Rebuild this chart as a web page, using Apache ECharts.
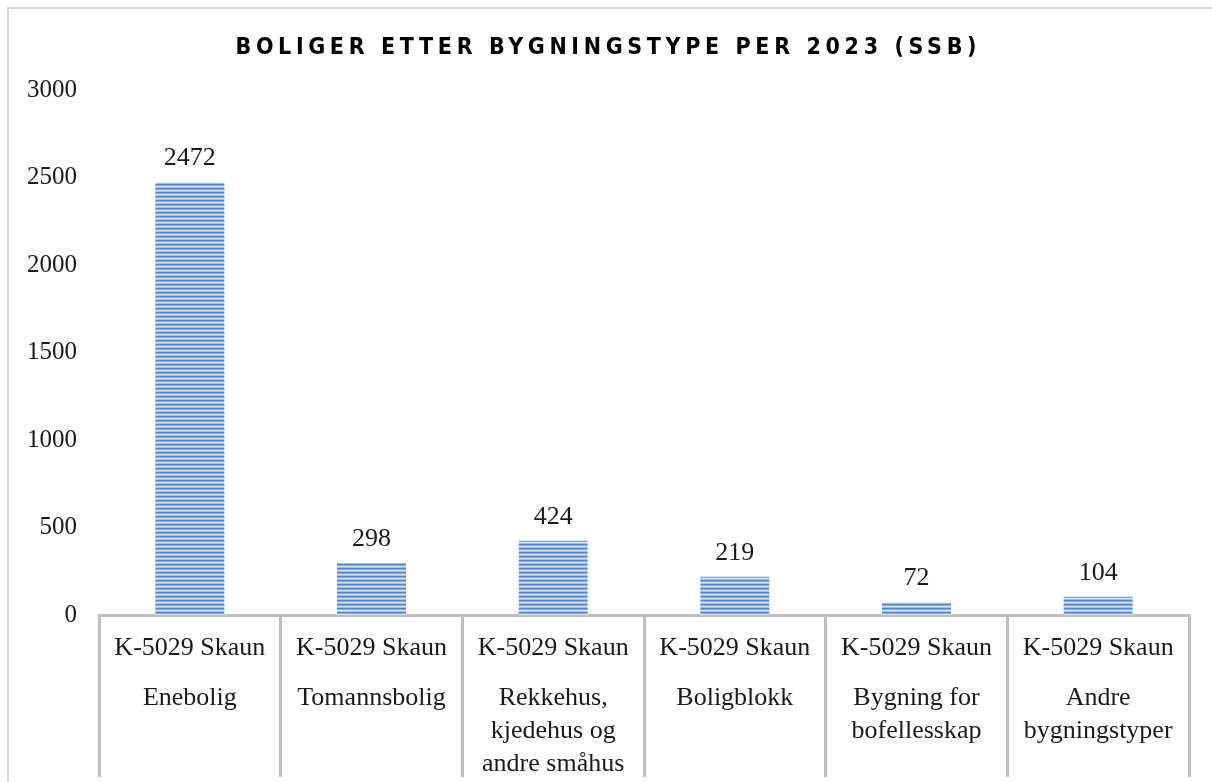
<!DOCTYPE html>
<html>
<head>
<meta charset="utf-8">
<script src="https://cdn.jsdelivr.net/npm/echarts@6/dist/echarts.min.js"></script>
<style>
  html, body { margin: 0; padding: 0; background: #fff; }
  #wrap { position: relative; width: 1212px; height: 782px; overflow: hidden; }
  #chart { width: 1212px; height: 782px; }
  #title {
    position: absolute; left: 0; top: 32px; width: 1212px; text-align: center;
    font-family: "DejaVu Sans Condensed", "DejaVu Sans", sans-serif; font-weight: bold; font-size: 23px;
    letter-spacing: 5px; color: #000; line-height: 28px; pointer-events: none; white-space: nowrap;
  }
</style>
</head>
<body>
<div id="wrap">
  <div id="chart"></div>
  <div id="title">BOLIGER ETTER BYGNINGSTYPE PER 2023 (SSB)</div>
</div>
<script>
// kommune (første nivå på x-aksen)
const region = 'K-5029 Skaun';
// bygningstyper (andre nivå), linjeskift som i figuren
const categories = [
  'Enebolig',
  'Tomannsbolig',
  'Rekkehus,\nkjedehus og\nandre småhus',
  'Boligblokk',
  'Bygning for\nbofellesskap',
  'Andre\nbygningstyper'
];
const values = [2472, 298, 424, 219, 72, 104];
const yTicks = [0, 500, 1000, 1500, 2000, 2500, 3000];

const serif = '"Liberation Serif", "DejaVu Serif", serif';

// tittelen strekkes til samme bredde som i originalen
(function fitTitle() {
  const el = document.getElementById('title');
  const target = 741;
  const ctx = document.createElement('canvas').getContext('2d');
  ctx.font = 'bold 23px "DejaVu Sans Condensed", "DejaVu Sans", sans-serif';
  const txt = el.textContent;
  const w = ctx.measureText(txt).width;
  const ls = (target - w) / (txt.length - 1);
  el.style.letterSpacing = ls + 'px';
  el.style.textIndent = ls + 'px';
})();

// stripet fyll som i originalen
function stripes() {
  const c = document.createElement('canvas');
  c.width = 1;
  c.height = 4;
  const ctx = c.getContext('2d');
  const rows = ['#5285cc', '#86abdf', '#d5e2f4', '#a3c0e8'];
  rows.forEach((col, i) => {
    ctx.fillStyle = col;
    ctx.fillRect(0, i, 1, 1);
  });
  return c;
}

const chart = echarts.init(document.getElementById('chart'), null, { renderer: 'canvas' });

const option = {
  animation: false,
  graphic: [
    {
      type: 'rect',
      shape: { x: 8, y: 8, width: 1300, height: 900 },
      style: { fill: 'none', stroke: '#d9d9d9', lineWidth: 2 },
      silent: true
    }
  ],
  grid: {
    left: 99,
    right: 23,
    top: 90,
    bottom: 167,
    containLabel: false,
    outerBoundsMode: 'none'
  },
  xAxis: {
    type: 'category',
    data: categories,
    axisLine: { lineStyle: { color: '#bfbfbf', width: 3 } },
    axisTick: { show: true, length: 162, lineStyle: { color: '#bfbfbf', width: 3 } },
    axisLabel: {
      interval: 0,
      margin: 17,
      formatter: (val) => {
        const lines = val.split('\n').map((l) => '{b|' + l + '}');
        return ['{a|' + region + '}', '{s| }'].concat(lines).join('\n');
      },
      rich: {
        a: { fontFamily: serif, fontSize: 26, color: '#1a1a1a', lineHeight: 33 },
        s: { fontSize: 1, lineHeight: 17 },
        b: { fontFamily: serif, fontSize: 26, color: '#1a1a1a', lineHeight: 33 }
      }
    }
  },
  yAxis: {
    type: 'value',
    min: yTicks[0],
    max: yTicks[yTicks.length - 1],
    interval: 500,
    axisLine: { show: false },
    axisTick: { show: false },
    splitLine: { show: false },
    axisLabel: {
      margin: 22,
      fontFamily: serif,
      fontSize: 25,
      color: '#1a1a1a',
      formatter: (v) => String(v)
    }
  },
  series: [
    {
      type: 'bar',
      data: values,
      barWidth: '38%',
      itemStyle: {
        color: { image: stripes(), repeat: 'repeat' }
      },
      label: {
        show: true,
        position: 'top',
        distance: 11,
        fontFamily: serif,
        fontSize: 26,
        color: '#1a1a1a'
      }
    }
  ]
};

chart.setOption(option);
</script>
</body>
</html>
